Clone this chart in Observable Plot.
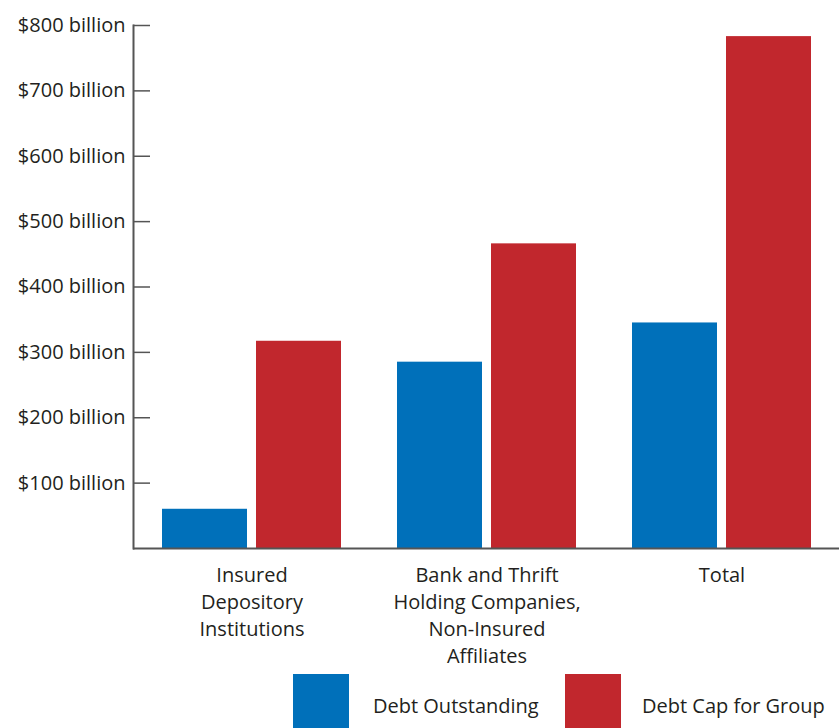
<!DOCTYPE html>
<html>
<head>
<meta charset="utf-8">
<script src="https://cdn.jsdelivr.net/npm/d3@7"></script>
<script src="https://cdn.jsdelivr.net/npm/@observablehq/plot@0.6"></script>
<style>
  body { margin: 0; background: #fff; overflow: hidden; font-family: "Open Sans", sans-serif; }
  #chart { position: relative; width: 839px; height: 728px; overflow: hidden; background: #fff; }
  #chart svg [aria-label="y-axis tick"], #chart svg [aria-label="frame"] { stroke: #555; }
  .legend { position: absolute; top: 674px; left: 0; width: 839px; height: 60px; }
  .sw { position: absolute; top: 0; width: 56px; height: 60px; }
  .lt { position: absolute; top: 18px; font-size: 20px; line-height: 1.35; color: #231f20; white-space: nowrap; }
</style>
</head>
<body>
<div id="chart"></div>
<script>
// Groups along the x axis
const categories = ["Insured Depository Institutions", "Bank and Thrift Holding Companies, Non-Insured Affiliates", "Total"];
const categoryLabels = ["Insured\nDepository\nInstitutions", "Bank and Thrift\nHolding Companies,\nNon-Insured\nAffiliates", "Total"];
// Series (billions of dollars)
const seriesNames = ["Debt Outstanding", "Debt Cap for Group"];
const debtOutstanding = [60, 285, 345];
const debtCap = [317, 466, 783];
const seriesColors = ["#0070ba", "#c1272d"];
// Y axis ticks
const yTicks = [100, 200, 300, 400, 500, 600, 700, 800];

const rows = categories.flatMap((c, i) => [
  {category: c, series: seriesNames[0], value: debtOutstanding[i]},
  {category: c, series: seriesNames[1], value: debtCap[i]}
]);
const labelOf = new Map(categories.map((c, i) => [c, categoryLabels[i]]));

const chart = Plot.plot({
  width: 839,
  height: 672,
  marginLeft: 133,
  marginRight: 0,
  marginTop: 25,
  marginBottom: 124,
  style: {fontFamily: "'Open Sans', sans-serif", fontSize: "20px", color: "#231f20", background: "#fff", overflow: "visible"},
  x: {domain: categories, paddingInner: 0.24, paddingOuter: 0.12},
  y: {domain: [0, 800]},
  marks: [
    Plot.barY(rows.filter(d => d.series === seriesNames[0]), {x: "category", y: "value", fill: seriesColors[0], insetRight: 94}),
    Plot.barY(rows.filter(d => d.series === seriesNames[1]), {x: "category", y: "value", fill: seriesColors[1], insetLeft: 94}),
    Plot.ruleY([0], {stroke: "#555", strokeWidth: 2}),
    Plot.frame({anchor: "left", strokeWidth: 2}),
    Plot.axisY(yTicks, {tickSize: -17, tickPadding: 25, strokeWidth: 1.5, tickFormat: d => `$${d} billion`, label: null}),
    Plot.axisX({tickSize: 0, tickPadding: 14, lineHeight: 1.35, tickFormat: c => labelOf.get(c), label: null})
  ]
});
document.getElementById("chart").append(chart);

// Legend below the plot
const legend = document.createElement("div");
legend.className = "legend";
const legendItems = [
  {swatch: 293, text: 373},
  {swatch: 565, text: 642}
];
seriesNames.forEach((name, i) => {
  const sw = document.createElement("div");
  sw.className = "sw";
  sw.style.left = legendItems[i].swatch + "px";
  sw.style.background = seriesColors[i];
  const lt = document.createElement("div");
  lt.className = "lt";
  lt.style.left = legendItems[i].text + "px";
  lt.textContent = name;
  legend.append(sw, lt);
});
document.getElementById("chart").append(legend);
</script>
</body>
</html>
